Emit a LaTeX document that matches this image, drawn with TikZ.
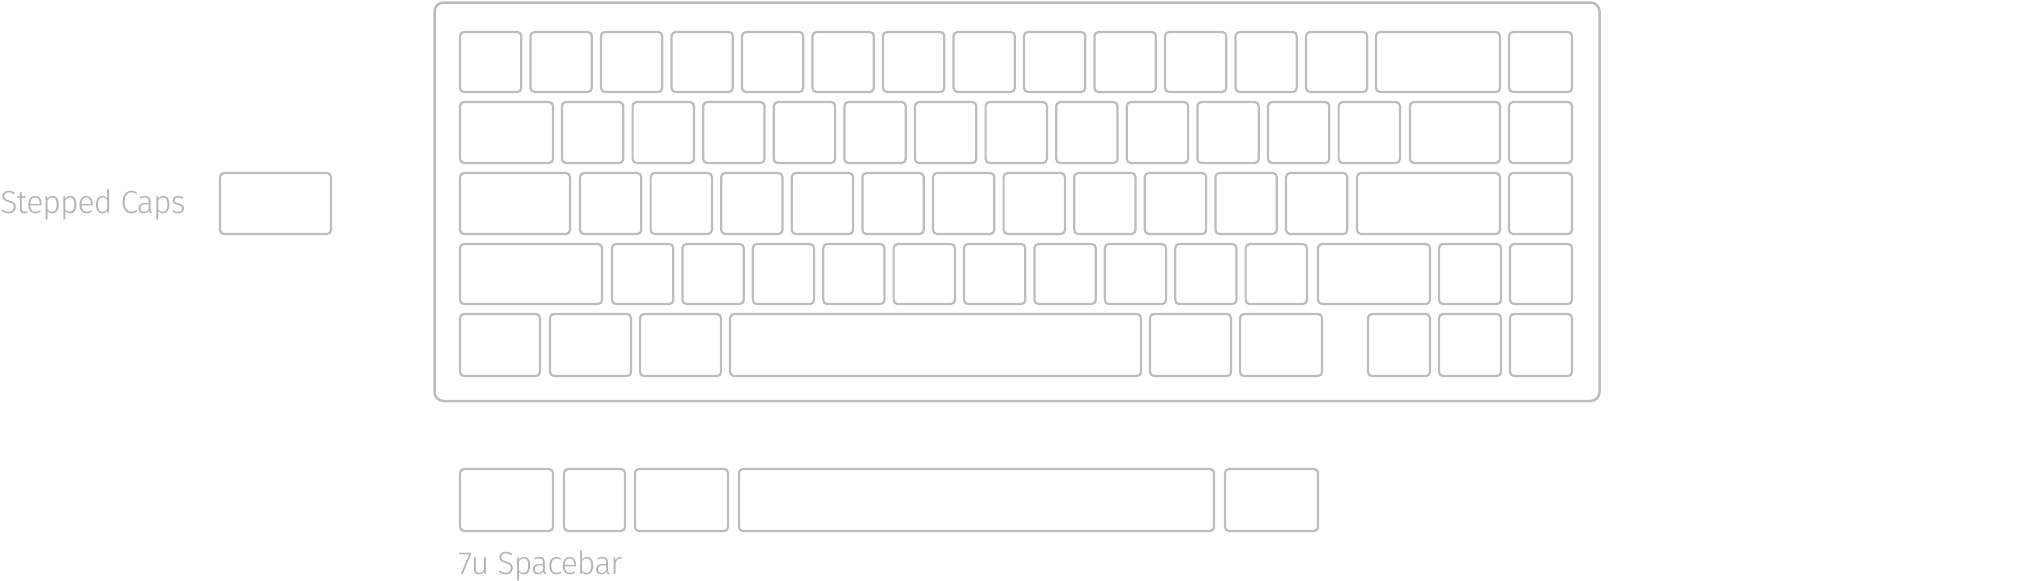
\documentclass[tikz,border=0pt]{standalone}
\usepackage{fontspec}
\newfontfamily\lblfont{Fira Sans Light}[LetterSpace=-3]
\usepackage{tikz}
\usepackage{xcolor}

\definecolor{capgray}{HTML}{BDBDBD}
\definecolor{textgray}{HTML}{B3B3B3}
\tikzset{
	keycap/.style={draw=capgray, line width=1.1pt, rounded corners=2pt},
	caseline/.style={draw=capgray, line width=1.25pt, rounded corners=4.5pt},
	caption/.style={text=textgray, font=\lblfont\fontsize{16}{18}\selectfont, inner sep=0pt, anchor=base west}
}

\begin{document}
\begin{tikzpicture}[x=0.5pt,y=-0.5pt]
\useasboundingbox (0,0) rectangle (2040,580);

% labels
\node[caption] (stepped) at (0,213) {Stepped Caps};
\node[caption] (spacelbl) at (458,574) {7u Spacebar};

% loose stepped cap
\draw[keycap] (220,173) rectangle (331,234);

% case
\draw[caseline] (434.5,2.5) rectangle (1599.5,401);

% row 1
\foreach \i in {0,...,12}
	\draw[keycap] ({460+70.5*\i},32) rectangle ({521.3+70.5*\i},92);
\draw[keycap] (1376,32) rectangle (1500,92);
\draw[keycap] (1509,32) rectangle (1572,92);

% row 2
\draw[keycap] (460,102) rectangle (553,163);
\foreach \i in {0,...,11}
	\draw[keycap] ({562+70.6*\i},102) rectangle ({623.3+70.6*\i},163);
\draw[keycap] (1410,102) rectangle (1500,163);
\draw[keycap] (1509,102) rectangle (1572,163);

% row 3
\draw[keycap] (460,173) rectangle (570,234);
\foreach \i in {0,...,10}
	\draw[keycap] ({580+70.6*\i},173) rectangle ({641.3+70.6*\i},234);
\draw[keycap] (1357,173) rectangle (1500,234);
\draw[keycap] (1509,173) rectangle (1572,234);

% row 4
\draw[keycap] (460,244) rectangle (602,304);
\foreach \i in {0,...,9}
	\draw[keycap] ({612+70.4*\i},244) rectangle ({673.3+70.4*\i},304);
\draw[keycap] (1318,244) rectangle (1430,304);
\draw[keycap] (1439,244) rectangle (1501,304);
\draw[keycap] (1510,244) rectangle (1572,304);

% row 5
\foreach \a/\b in {460/540, 550/631, 640/721, 730/1141, 1150/1231, 1240/1322, 1368/1430, 1439/1501, 1510/1572}
	\draw[keycap] (\a,314) rectangle (\b,376);

% 7u spacebar row
\foreach \a/\b in {460/553, 564/625, 635/728, 739/1214, 1225/1318}
	\draw[keycap] (\a,469) rectangle (\b,531);
\end{tikzpicture}
\end{document}
